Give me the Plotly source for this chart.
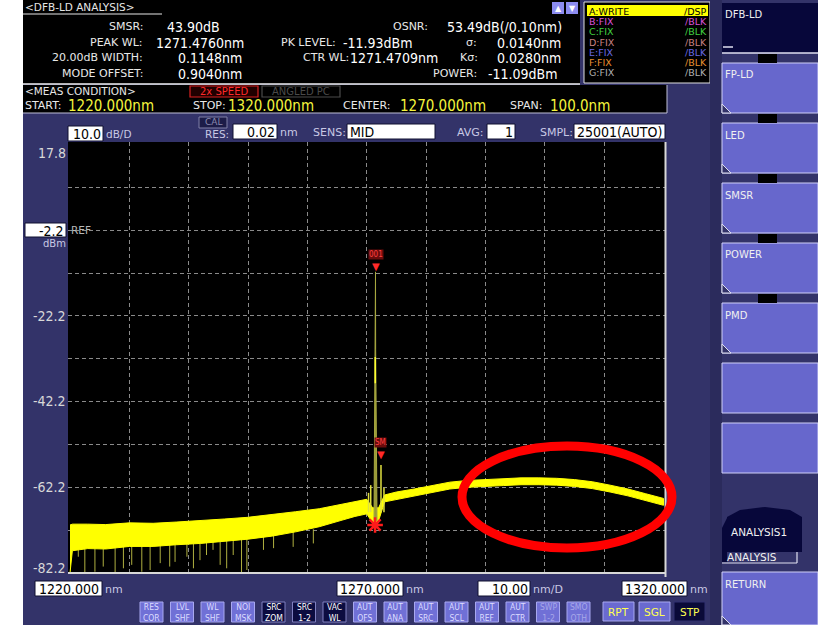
import plotly.graph_objects as go

# ---------------- data ----------------
start_wl, stop_wl = 1220.0, 1320.0
level_top, level_bottom = 17.8, -82.2

x_grid = [1230, 1240, 1250, 1260, 1270, 1280, 1290, 1300, 1310]
y_grid = [7.8, -2.2, -12.2, -22.2, -32.2, -42.2, -52.2, -62.2, -72.2]
y_tick_labels = ["17.8", "-22.2", "-42.2", "-62.2", "-82.2"]

# noise / ripple band of trace A (upper and lower envelope, dBm)
band_wl = [1220.0, 1220.4, 1223.0, 1226.0, 1230.0, 1234.0, 1238.0, 1242.0, 1246.0, 1250.0,
           1254.0, 1258.0, 1262.0, 1265.0, 1268.0, 1270.0, 1271.0, 1272.0, 1273.0, 1275.0,
           1278.0, 1281.0, 1284.0, 1287.0, 1290.0, 1293.0, 1296.0, 1299.0, 1302.0, 1305.0,
           1308.0, 1311.0, 1314.0, 1317.0, 1320.0]
band_upper = [-71.0, -70.8, -70.8, -70.9, -70.5, -70.6, -70.3, -70.0, -69.6, -69.2,
              -68.6, -67.9, -67.2, -66.4, -65.6, -65.0, -67.0, -67.0, -64.0, -63.3,
              -62.6, -61.8, -61.0, -60.6, -60.4, -60.2, -60.0, -60.0, -60.1, -60.4,
              -60.9, -61.7, -62.6, -63.7, -64.8]
band_lower = [-82.2, -77.0, -76.5, -76.6, -76.0, -76.0, -75.6, -75.3, -74.8, -74.3,
              -73.6, -72.6, -71.4, -70.2, -69.0, -68.4, -70.5, -70.0, -65.6, -64.9,
              -64.2, -63.4, -62.6, -62.2, -62.0, -61.8, -61.6, -61.6, -61.7, -62.0,
              -62.5, -63.3, -64.2, -65.3, -66.4]

# downward noise spikes below the band
dip_wl = [1221.4, 1222.5, 1224.2, 1225.6, 1227.6, 1229.0, 1230.4, 1232.1, 1233.5, 1235.2,
          1236.8, 1237.7, 1239.7, 1240.8, 1241.9, 1243.0, 1244.1, 1245.3, 1246.4, 1247.5,
          1248.9, 1249.8, 1252.6, 1254.3, 1257.6, 1261.0]
dip_low = [-78.4, -82.2, -81.9, -80.7, -82.2, -81.1, -80.3, -81.9, -81.5, -79.9,
           -80.7, -79.6, -78.4, -81.1, -79.2, -78.0, -76.8, -80.3, -81.1, -78.0,
           -82.2, -81.5, -76.8, -76.4, -76.1, -75.3]

# upward spikes around the lasing mode
lobe_wl = [1270.30, 1270.67, 1272.40, 1272.90]
lobe_high = [-63.5, -61.7, -57.0, -62.3]

# main mode profile
peak_wl = 1271.4760
peak_level = -11.93
mode_profile_wl = [1271.22, 1271.40, 1271.45, 1271.476, 1271.50, 1271.55, 1271.73]
mode_profile_level = [-70.0, -38.0, -30.0, -11.93, -30.0, -38.0, -70.0]
bright_wl = [1271.43, 1271.43]
bright_level = [-31.8, -37.9]

side_mode_wl = 1272.38
side_mode_level = -55.83
trough_wl = 1271.40
trough_level = -71.0

# ---------------- layout geometry ----------------
W, H = 818, 625
L, R, T, B = 68, 666, 142, 573
NAVY = "#333369"
BTN = "#6767cc"
DARK = "#07073a"
YEL = "#f4f43c"
F_LBL = "DejaVu Sans"
F_VAL = "DejaVu Sans Condensed, Liberation Sans Narrow, DejaVu Sans"
VS = 14      # value font size
LS = 11      # label font size


def X(px):
    return (px - L) / (R - L)


def Y(py):
    return (B - py) / (B - T)


shapes = []
annotations = []


def rect(x0, y0, x1, y1, fill, line=None, lw=1, layer="below"):
    shapes.append(dict(type="rect", xref="paper", yref="paper",
                       x0=X(x0), x1=X(x1), y0=Y(y1), y1=Y(y0),
                       fillcolor=fill,
                       line=dict(color=line if line else fill, width=lw if line else 0),
                       layer=layer))


def seg(x0, y0, x1, y1, color, lw=1, layer="below", dash=None):
    shapes.append(dict(type="line", xref="paper", yref="paper",
                       x0=X(x0), x1=X(x1), y0=Y(y0), y1=Y(y1),
                       line=dict(color=color, width=lw, dash=dash), layer=layer))


def poly(pts, fill, line=None, lw=1, layer="below"):
    d = "M " + " L ".join(f"{X(a):.5f},{Y(b):.5f}" for a, b in pts) + " Z"
    shapes.append(dict(type="path", xref="paper", yref="paper", path=d,
                       fillcolor=fill,
                       line=dict(color=line if line else fill, width=lw if line else 0),
                       layer=layer))


def text(px, py, s, color, size, family=F_LBL, anchor="left", bg=None):
    a = dict(xref="paper", yref="paper", x=X(px), y=Y(py), text=s, showarrow=False,
             xanchor=anchor, yanchor="middle", borderpad=0, borderwidth=0,
             font=dict(color=color, size=size, family=family))
    if bg:
        a["bgcolor"] = bg
    annotations.append(a)


def box(x0, y0, x1, y1, s, align="center", size=14):
    rect(x0, y0, x1, y1, "#ffffff", "#101030", 1)
    if align == "center":
        text((x0 + x1) / 2, (y0 + y1) / 2 + 0.5, s, "#000000", size, F_VAL, "center")
    elif align == "right":
        text(x1 - 2, (y0 + y1) / 2 + 0.5, s, "#000000", size, F_VAL, "right")
    else:
        text(x0 + 3, (y0 + y1) / 2 + 0.5, s, "#000000", size, F_VAL, "left")


# white page margin on the left
rect(0, 0, 23, H, "#ffffff")

# ---- header (analysis results) ----
rect(23, 0, 580, 84, "#000000")
text(25, 6.5, "&lt;DFB-LD ANALYSIS&gt;", "#e6e6e6", 10.5)
seg(23, 14, 162, 14, "#e6e6e6", 1)
LBLC = "#e8e8e8"
text(143, 27, "SMSR:", LBLC, LS, anchor="right")
text(167, 27, "43.90dB", "#ffffff", VS, F_VAL)
text(143, 43, "PEAK WL:", LBLC, LS, anchor="right")
text(156, 43, "1271.4760nm", "#ffffff", VS, F_VAL)
text(143, 58, "20.00dB WIDTH:", LBLC, LS, anchor="right")
text(178, 58, "0.1148nm", "#ffffff", VS, F_VAL)
text(143, 74, "MODE OFFSET:", LBLC, LS, anchor="right")
text(178, 74, "0.9040nm", "#ffffff", VS, F_VAL)
text(428, 27, "OSNR:", LBLC, LS, anchor="right")
text(447, 27, "53.49dB(/0.10nm)", "#ffffff", VS, F_VAL)
text(336, 43, "PK LEVEL:", LBLC, LS, anchor="right")
text(343, 43, "-11.93dBm", "#ffffff", VS, F_VAL)
text(349, 58, "CTR WL:", LBLC, LS, anchor="right")
text(350, 58, "1271.4709nm", "#ffffff", VS, F_VAL)
text(477, 43, "σ:", LBLC, LS, anchor="right")
text(497, 43, "0.0140nm", "#ffffff", VS, F_VAL)
text(478, 58, "Kσ:", LBLC, LS, anchor="right")
text(497, 58, "0.0280nm", "#ffffff", VS, F_VAL)
text(477, 74, "POWER:", LBLC, LS, anchor="right")
text(488, 74, "-11.09dBm", "#ffffff", VS, F_VAL)

# scroll arrows
rect(552, 2, 564, 14, "#8c8cf0")
rect(566, 2, 578, 14, "#8c8cf0")
text(558, 8, "▲", "#ffffff", 8, anchor="center")
text(572, 8, "▼", "#ffffff", 8, anchor="center")

# trace list
rect(584, 2, 710, 83, "#000000", "#e0e0e0", 1)
rect(587, 5, 708, 16, "#ffff00")
trace_rows = [("A:WRITE", "/DSP", "#000000"), ("B:FIX", "/BLK", "#d850d8"),
              ("C:FIX", "/BLK", "#40d040"), ("D:FIX", "/BLK", "#c88080"),
              ("E:FIX", "/BLK", "#6a6ae0"), ("F:FIX", "/BLK", "#e89030"),
              ("G:FIX", "/BLK", "#b0b0b0")]
for i, (a, b, c) in enumerate(trace_rows):
    yy = 11.5 + i * 10.2
    text(589, yy, a, c, 9.5)
    text(707, yy, b, c, 9.5, anchor="right")

seg(23, 84, 580, 84, "#f0f0f0", 1.5)

# ---- measurement condition ----
rect(23, 85, 667, 113, "#000000", None)
seg(23, 113, 667, 113, "#c0c0d8", 1)
seg(667, 85, 667, 113, "#c0c0d8", 1)
text(25, 91, "&lt;MEAS CONDITION&gt;", "#e6e6e6", 10.5)
rect(190, 86, 258, 97, "#200000", "#d82020", 1.2)
text(224, 91.5, "2x SPEED", "#ff2a2a", 10, anchor="center")
rect(262, 86, 340, 97, "#000000", "#4a4a4a", 1.2)
text(301, 91.5, "ANGLED PC", "#4a4a4a", 10, anchor="center")
text(25, 106, "START:", LBLC, LS)
text(68, 106, "1220.000nm", YEL, 15, F_VAL)
text(193, 106, "STOP:", LBLC, LS)
text(228, 106, "1320.000nm", YEL, 15, F_VAL)
text(343, 106, "CENTER:", LBLC, LS)
text(400, 106, "1270.000nm", YEL, 15, F_VAL)
text(510, 106, "SPAN:", LBLC, LS)
text(550, 106, "100.0nm", YEL, 15, F_VAL)

# ---- settings row above the plot ----
SUB = "#c8c8e4"
box(68, 126, 103, 141, "10.0", "right")
text(106, 134, "dB/D", SUB, 10.5)
rect(199, 117, 227, 128, "#1c1c48", "#8080a8", 1)
text(213, 122, "CAL", "#8a8ab0", 9, anchor="center")
text(229, 134, "RES:", SUB, 10.5, anchor="right")
box(233, 124, 277, 139, "0.02", "right")
text(280, 133, "nm", SUB, 11)
text(346, 133, "SENS:", SUB, 11, anchor="right")
box(347, 124, 435, 139, "MID", "left")
text(484, 133, "AVG:", SUB, 11, anchor="right")
box(487, 124, 515, 139, "1", "right")
text(573, 133, "SMPL:", SUB, 11, anchor="right")
box(574, 124, 665, 139, "25001(AUTO)", "left")

# ---- left scale ----
tick_rows = [153, 316, 401, 487, 568]
for lab, yy in zip(y_tick_labels, tick_rows):
    text(66, yy, lab, "#d8d8d8", 14, F_VAL, anchor="right")
box(25, 223, 66, 237, "-2.2", "right")
text(66, 243, "dBm", SUB, 10, anchor="right")
text(71, 230, "REF", "#b8b8b8", 10.5)

# ---- bottom scale ----
box(35, 581, 102, 596, "1220.000")
text(105, 589, "nm", SUB, 11)
box(337, 581, 403, 596, "1270.000")
text(406, 589, "nm", SUB, 11)
box(478, 581, 530, 596, "10.00", "right")
text(533, 589, "nm/D", SUB, 11)
box(622, 581, 687, 596, "1320.000")
text(690, 589, "nm", SUB, 11)

# plot frame lines
seg(L, 573, 666, 573, "#d8d8d8", 2, layer="above")
seg(665.5, 142, 665.5, 577, "#d8d8d8", 2, layer="above")

# ---- function buttons ----
small_buttons = [("RES", "COR", 0), ("LVL", "SHF", 0), ("WL", "SHF", 0), ("NOI", "MSK", 0),
                 ("SRC", "ZOM", 1), ("SRC", "1-2", 1), ("VAC", "WL", 1), ("AUT", "OFS", 0),
                 ("AUT", "ANA", 0), ("AUT", "SRC", 0), ("AUT", "SCL", 0), ("AUT", "REF", 0),
                 ("AUT", "CTR", 0), ("SWP", "1-2", 2), ("SMO", "OTH", 2)]
for i, (a, b, k) in enumerate(small_buttons):
    x0 = 140 + 30.5 * i
    if k == 1:
        rect(x0, 602, x0 + 23, 622, "#0c0c40", "#8080c0", 1)
        col = "#ffffff"
    else:
        rect(x0, 602, x0 + 23, 622, "#7070d6", "#a8a8f0", 1)
        col = "#dcdcff" if k == 0 else "#a8a8e8"
    text(x0 + 11.5, 612.5, a + "<br>" + b, col, 8.5, F_VAL, anchor="center")

for lab, x0, fill in [("RPT", 603, "#6a6ad0"), ("SGL", 639, "#6a6ad0"), ("STP", 674, "#0a0a38")]:
    rect(x0, 602, x0 + 31, 621, fill, "#a8a8f0" if fill != "#0a0a38" else "#303070", 1)
    text(x0 + 15.5, 612, lab, "#ffff50", 10.5, anchor="center")

# ---- right soft-key panel ----
rect(710, 0, 722, H, "#2b2b5c")
side_keys = [("DFB-LD", 3, 53, True), ("FP-LD", 63, 113, False), ("LED", 123, 173, False),
             ("SMSR", 183, 233, False), ("POWER", 243, 293, False), ("PMD", 303, 353, False),
             ("", 363, 413, False), ("", 423, 473, False), ("RETURN", 572, 625, False)]
for lab, y0, y1, dark in side_keys:
    if dark:
        rect(722, y0, 818, y1, DARK)
        seg(722, y1, 818, y1, "#e0e0f0", 1.5)
        seg(723, y1 - 6, 733, y1 - 6, "#e0e0f0", 1.5)
    else:
        rect(722, y0, 818, y1, BTN, "#d0d0f8", 1)
        if lab:
            poly([(722, y1 - 9), (731, y1), (722, y1)], NAVY, "#e0e0f0", 1)
    if lab:
        text(725, y0 + 12, lab, "#f0f0f0", 10)
for y0 in [53, 113, 173, 233, 293]:
    rect(758, y0 + 1, 777, y0 + 10, "#000000")

# analysis tab
poly([(727, 517), (740, 510), (765, 507), (790, 510), (802, 517), (802, 552), (727, 552)], DARK)
poly([(722, 528), (727, 518), (727, 562), (722, 562)], DARK)
text(731, 532, "ANALYSIS1", "#f0f0f0", 10.5)
text(727, 557, "ANALYSIS", "#f0f0f0", 10.5)
seg(722, 563, 797, 563, "#e0e0f0", 1.2)
seg(797, 552, 797, 563, "#e0e0f0", 1.2)

# highlight ellipse
shapes.append(dict(type="circle", xref="paper", yref="paper",
                   x0=X(462), x1=X(672), y0=Y(548), y1=Y(446),
                   line=dict(color="#ff0000", width=9), fillcolor="rgba(0,0,0,0)",
                   layer="above"))

# ---------------- traces ----------------
fig = go.Figure()

dx, dy = [], []
for w, lo in zip(dip_wl, dip_low):
    dx += [w, w, None]
    dy += [-72.0, lo, None]
fig.add_trace(go.Scatter(x=dx, y=dy, mode="lines", line=dict(color="#b0b040", width=1),
                         hoverinfo="skip", showlegend=False))

fig.add_trace(go.Scatter(x=band_wl + band_wl[::-1], y=band_upper + band_lower[::-1],
                         mode="lines", fill="toself", fillcolor="#ffff00",
                         line=dict(color="#ffff00", width=1), hoverinfo="skip", showlegend=False))

lx, ly = [], []
for w, hi in zip(lobe_wl, lobe_high):
    lx += [w, w, None]
    ly += [-68.0, hi, None]
fig.add_trace(go.Scatter(x=lx, y=ly, mode="lines", line=dict(color="#e0e040", width=1.5),
                         hoverinfo="skip", showlegend=False))

fig.add_trace(go.Scatter(x=mode_profile_wl, y=mode_profile_level, mode="lines", fill="toself",
                         fillcolor="#9a9a38", line=dict(color="#a8a840", width=1),
                         hoverinfo="skip", showlegend=False))
fig.add_trace(go.Scatter(x=bright_wl, y=bright_level, mode="lines",
                         line=dict(color="#ffff30", width=1.5), hoverinfo="skip", showlegend=False))
fig.add_trace(go.Scatter(x=[trough_wl], y=[trough_level], mode="markers",
                         marker=dict(symbol="asterisk-open", size=13, color="#ff1a1a",
                                     line=dict(color="#ff1a1a", width=2.5)),
                         hoverinfo="skip", showlegend=False))

# markers on peak and side mode
for w, lv, lab in [(peak_wl, peak_level, "001"), (side_mode_wl, side_mode_level, "SM")]:
    annotations.append(dict(x=w, y=lv, xref="x", yref="y", text="▼", showarrow=False,
                            xanchor="center", yanchor="bottom", yshift=-2,
                            font=dict(color="#ff2a2a", size=10, family=F_LBL)))
    annotations.append(dict(x=w, y=lv, xref="x", yref="y", text=lab, showarrow=False,
                            xanchor="center", yanchor="bottom", yshift=12,
                            bgcolor="#6a0c0c", borderpad=0,
                            font=dict(color="#ff4040", size=8, family=F_VAL)))

px_per_nm = (663.5 - 70) / (stop_wl - start_wl)
px_per_db = (573 - 487.3) / 20.0
fig.update_layout(
    width=W, height=H,
    margin=dict(l=L, r=W - R, t=T, b=H - B, pad=0),
    paper_bgcolor=NAVY, plot_bgcolor="#000000",
    xaxis=dict(range=[start_wl - (70 - L) / px_per_nm, stop_wl + (R - 663.5) / px_per_nm],
               tickvals=x_grid, showticklabels=False, showgrid=True,
               gridcolor="#8a8a8a", griddash="4px,3px", gridwidth=1,
               zeroline=False, showline=False, ticks="", fixedrange=True),
    yaxis=dict(range=[level_bottom, level_bottom + (B - T) / px_per_db],
               tickvals=y_grid, showticklabels=False, showgrid=True,
               gridcolor="#8a8a8a", griddash="4px,3px", gridwidth=1,
               zeroline=False, showline=False, ticks="", fixedrange=True),
    shapes=shapes, annotations=annotations, showlegend=False,
)

fig.write_html("out.html", config={"displayModeBar": False},
               post_script="document.body.style.margin='0px';document.body.style.overflow='hidden';")
